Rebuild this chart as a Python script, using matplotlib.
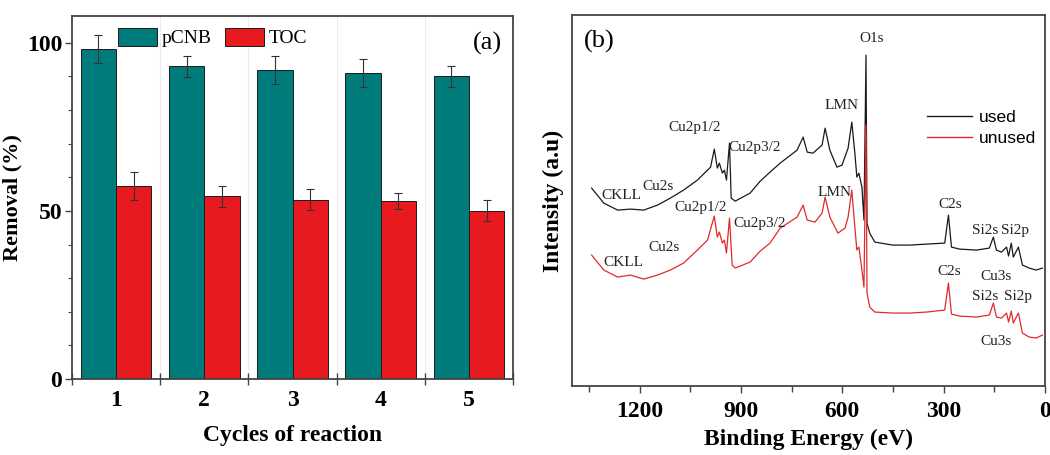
import matplotlib
matplotlib.use("Agg")
import matplotlib.pyplot as plt
import numpy as np
from matplotlib.ticker import MultipleLocator, FixedLocator, NullFormatter

plt.rcParams['font.family'] = ['Liberation Serif', 'DejaVu Serif']

# (a) removal over reaction cycles
cycles = [1, 2, 3, 4, 5]
pcnb = [98.2, 93.0, 92.0, 91.0, 90.0]
pcnb_err = [4.1, 3.2, 4.2, 4.1, 3.0]
toc = [57.4, 54.4, 53.3, 52.9, 50.1]
toc_err = [4.2, 3.1, 3.1, 2.4, 3.0]

# (b) XPS survey, binding energy (eV) vs intensity (a.u.)
used_be = [1342, 1306, 1265, 1227, 1188, 1147, 1109, 1070, 1029, 999, 990, 979,
           970, 964, 955, 949, 943, 934, 929, 917, 873, 843, 814, 784, 734, 716,
           704, 687, 660, 651, 637, 616, 601, 583, 572, 563, 557, 551, 542, 536,
           530, 527, 519, 504, 451, 401, 350, 297, 286, 277, 253, 203, 165, 153,
           144, 129, 114, 108, 100, 94, 79, 67, 47, 26, 8]
used_int = [198, 183, 176, 177, 176, 181, 188, 196, 206, 216, 219, 237,
            218, 223, 213, 216, 206, 243, 188, 185, 193, 205, 214, 223, 236, 249,
            234, 233, 241, 258, 236, 219, 221, 238, 264, 233, 209, 213, 199, 166,
            331, 163, 153, 144, 141, 141, 142, 143, 171, 139, 137, 136, 138, 149,
            136, 134, 139, 130, 143, 129, 139, 121, 118, 116, 118]
unused_be = [1342, 1306, 1265, 1227, 1188, 1147, 1109, 1070, 1029, 999, 979,
             970, 964, 955, 949, 943, 934, 926, 917, 873, 843, 814, 784, 734, 716,
             704, 681, 660, 651, 637, 613, 592, 583, 572, 563, 557, 551, 542, 536,
             530, 527, 519, 504, 451, 401, 350, 297, 286, 277, 253, 203, 165, 153,
             144, 129, 114, 108, 100, 94, 79, 67, 47, 26, 8]
unused_int = [131, 116, 109, 111, 107, 111, 116, 123, 136, 146, 170,
              149, 154, 143, 146, 133, 168, 121, 118, 124, 135, 143, 158, 169, 181,
              166, 164, 173, 189, 169, 153, 158, 169, 196, 159, 136, 139, 116, 99,
              261, 93, 79, 74, 73, 73, 74, 76, 103, 72, 70, 69, 71, 83,
              69, 68, 73, 64, 75, 63, 73, 53, 49, 48, 51]

peak_text = ["O1s", "LMN", "Cu2p1/2", "Cu2p3/2", "CKLL", "Cu2s", "C2s", "Si2s", "Si2p", "Cu3s",
             "LMN", "Cu2p1/2", "Cu2p3/2", "CKLL", "Cu2s", "C2s", "Si2s", "Si2p", "Cu3s"]
peak_be = [512, 601, 1038, 861, 1253, 1147, 280, 176, 88, 144,
           622, 1020, 846, 1247, 1129, 283, 176, 79, 144]
peak_int = [348, 281, 259, 239, 191, 200, 182, 156, 156, 110,
            194, 179, 163, 124, 139, 115, 90, 90, 45]

TEAL = '#007b7b'
RED = '#e8191f'
SPINE = '#444444'

fig = plt.figure(figsize=(10.5, 4.55), dpi=100)

# ---- panel (a)
ax1 = fig.add_axes([0.0686, 0.167, 0.42, 0.798])
x = np.array(cycles, dtype=float)
w = 0.4
ekw = dict(ecolor='#333333', elinewidth=0.8, capsize=3, capthick=0.8)
for xv in [1.5, 2.5, 3.5, 4.5]:
    ax1.axvline(xv, color='#ececec', lw=0.8, zorder=0)
ax1.bar(x - w / 2, pcnb, w, yerr=pcnb_err, color=TEAL, edgecolor='#1a1a1a',
        linewidth=0.7, label='pCNB', error_kw=ekw, zorder=2)
ax1.bar(x + w / 2, toc, w, yerr=toc_err, color=RED, edgecolor='#1a1a1a',
        linewidth=0.7, label='TOC', error_kw=ekw, zorder=2)
ax1.set_xlim(0.5, 5.5)
ax1.set_ylim(0, 108)
ax1.xaxis.set_major_locator(FixedLocator([0.5, 1.5, 2.5, 3.5, 4.5, 5.5]))
ax1.xaxis.set_major_formatter(NullFormatter())
ax1.xaxis.set_minor_locator(FixedLocator(cycles))
ax1.set_xticklabels([str(c) for c in cycles], minor=True)
ax1.tick_params(axis='x', which='major', direction='inout', length=8, width=1, color=SPINE)
ax1.tick_params(axis='x', which='minor', length=0, pad=8, labelsize=17)
ax1.yaxis.set_major_locator(FixedLocator([0, 50, 100]))
ax1.yaxis.set_minor_locator(MultipleLocator(10))
ax1.tick_params(axis='y', which='major', direction='out', length=5, width=1,
                color=SPINE, labelsize=17, pad=2)
ax1.tick_params(axis='y', which='minor', direction='out', length=3, width=0.8, color=SPINE)
for lab in ax1.get_xticklabels(minor=True) + ax1.get_yticklabels():
    lab.set_fontweight('bold')
for s in ax1.spines.values():
    s.set_color(SPINE)
    s.set_linewidth(1.3)
ax1.set_xlabel('Cycles of reaction', fontsize=17, fontweight='bold', labelpad=10)
ax1.set_ylabel('Removal (%)', fontsize=16, fontweight='bold', labelpad=3)
ax1.legend(loc='upper left', bbox_to_anchor=(0.104, 0.968), ncol=2, frameon=False,
           fontsize=14, handlelength=2.0, handleheight=1.05, handletextpad=0.25,
           columnspacing=0.7, borderpad=0, borderaxespad=0)
ax1.text(0.975, 0.925, '(a)', transform=ax1.transAxes, ha='right', va='center', fontsize=19)

# ---- panel (b)
ax2 = fig.add_axes([0.5448, 0.1516, 0.4505, 0.815])
ax2.plot(used_be, used_int, color='#1a1a1a', lw=0.9, label='used')
ax2.plot(unused_be, unused_int, color='#e02a2a', lw=0.9, label='unused')
for t, be, it in zip(peak_text, peak_be, peak_int):
    ax2.text(be, it, t, ha='center', va='center', fontsize=11, color='#222222')
ax2.set_xlim(1400, 0)
ax2.set_ylim(0, 371)
ax2.xaxis.set_major_locator(MultipleLocator(300))
ax2.xaxis.set_minor_locator(MultipleLocator(150))
ax2.tick_params(axis='x', which='major', direction='out', length=5, width=1,
                color=SPINE, labelsize=17, pad=6)
ax2.tick_params(axis='x', which='minor', direction='out', length=4, width=1, color=SPINE)
ax2.set_yticks([])
for lab in ax2.get_xticklabels():
    lab.set_fontweight('bold')
for s in ax2.spines.values():
    s.set_color(SPINE)
    s.set_linewidth(1.3)
ax2.set_xlabel('Binding Energy (eV)', fontsize=17, fontweight='bold', labelpad=5)
ax2.set_ylabel('Intensity (a.u)', fontsize=17, fontweight='bold', labelpad=6)
leg = ax2.legend(loc='upper left', bbox_to_anchor=(0.75, 0.745), frameon=False,
                 prop={'family': 'Liberation Sans', 'size': 12.5}, handlelength=2.6,
                 handletextpad=0.4, labelspacing=0.35, borderpad=0, borderaxespad=0)
for ln in leg.get_lines():
    ln.set_linewidth(1.0)
ax2.text(0.025, 0.93, '(b)', transform=ax2.transAxes, ha='left', va='center', fontsize=19)

fig.savefig('out.png', dpi=100)
